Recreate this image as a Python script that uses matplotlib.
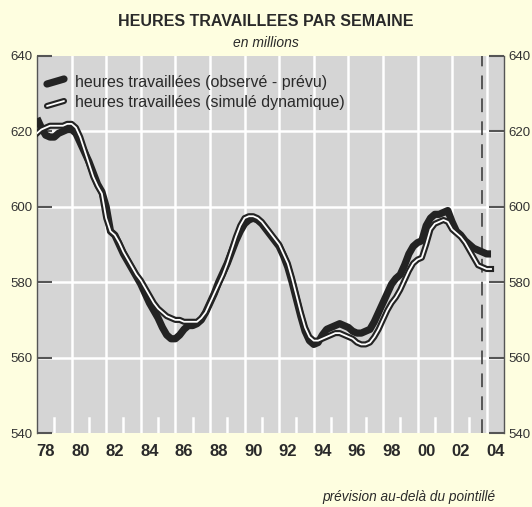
import numpy as np
import matplotlib
matplotlib.use("Agg")
import matplotlib.pyplot as plt

# ---------------- data (quarterly, 1978Q1 .. 2004Q2) ----------------
start_year = 1978.0
observed = [
    623.5, 621, 619, 618.5,
    618.5, 619.5, 620, 620.5,
    620.5, 619.5, 617, 614.5,
    612, 609, 606, 604,
    600, 593.5, 592.5, 590,
    587.5, 585.5, 583.5, 581.5,
    579.5, 577, 574.5, 572.5,
    570.5, 568, 566, 565,
    565, 566, 567.5, 568.5,
    568.5, 569, 570, 572,
    574.5, 577, 580, 582.5,
    585, 588, 591, 593.5,
    595.5, 596.5, 597, 596.5,
    595.5, 594, 592.5, 591,
    589.5, 587, 584, 580,
    575.5, 571, 567, 564.5,
    563.5, 564, 566, 567.5,
    568, 568.5, 569, 568.5,
    568, 567, 566.5, 566.5,
    567, 567.5, 569.5, 572,
    574.5, 577, 579.5, 581,
    582, 584.5, 587.5, 589.5,
    590.5, 591, 595, 597,
    598, 598, 598.5, 599,
    596, 593.5, 592.5, 591,
    590, 589, 588.5, 588,
    587.5, 587.5,
]
simulated = [
    619.5, 620.5, 621, 621.5,
    621.5, 621.5, 621.5, 622,
    622, 621, 618.5, 615,
    611.5, 608, 605.5, 603.5,
    597, 593.5, 592.5, 590.5,
    588, 586, 584, 582,
    580.5, 578.5, 576.5, 574.5,
    573, 572, 571, 570.5,
    570, 570, 569.5, 569.5,
    569.5, 569.5, 570.5, 572,
    574.5, 577, 579.5, 582,
    585, 588.5, 592, 595,
    597, 597.5, 597.5, 597,
    596, 594.5, 593, 591.5,
    590, 587.5, 585, 581,
    576.5, 572, 568, 565.5,
    564.5, 564.5, 565, 565.5,
    566, 566.5, 566.5, 566,
    565.5, 565, 564, 563.5,
    563.5, 564, 565.5, 567.5,
    570, 572.5, 574.5, 576,
    578, 580.5, 583, 585,
    586, 586.5, 590, 594,
    595.5, 596, 596.5, 596,
    594, 593, 592, 590.5,
    588.5, 586.5, 584.5, 584,
    583.5, 583.5,
]
forecast_start = 2003.75
year_labels = ["78", "80", "82", "84", "86", "88", "90", "92", "94", "96",
               "98", "00", "02", "04"]
label_years = list(range(1978, 2005, 2))
y_ticks = [540, 560, 580, 600, 620, 640]

title = "HEURES TRAVAILLEES PAR SEMAINE"
subtitle = "en millions"
legend_labels = ["heures travaillées (observé - prévu)",
                 "heures travaillées (simulé dynamique)"]
footnote = "prévision au-delà du pointillé"

# ---------------- style ----------------
BG = "#FEFEE0"
PLOT_BG = "#D5D5D5"
INK = "#232323"
AX_GREY = "#555555"

plt.rcParams["font.family"] = ["Liberation Sans", "DejaVu Sans"]

fig = plt.figure(figsize=(5.32, 5.07), dpi=100, facecolor=BG)
ax = fig.add_axes([37 / 532, 1 - 433 / 507, (504 - 37) / 532, (433 - 56) / 507])
ax.set_facecolor(PLOT_BG)

t = start_year + np.arange(len(observed)) * 0.25

ax.set_xlim(1978, 2005)
ax.set_ylim(540, 640)

# grid
for yv in y_ticks[1:-1]:
    ax.axhline(yv, color="white", lw=1.8, zorder=1)
for yr in range(1980, 2005, 2):
    ax.axvline(yr, color="white", lw=1.8, zorder=1)
for yr in range(1979, 2005, 2):
    ax.axvline(yr, ymin=0, ymax=0.04, color="white", lw=1.8, zorder=1)

# forecast marker
ax.axvline(forecast_start, color="#333333", lw=1.1, dashes=(9, 6), zorder=2)

# series
ax.plot(t, observed, color=INK, lw=5.2, solid_capstyle="butt",
        solid_joinstyle="round", zorder=3)
ax.plot(t, simulated, color=INK, lw=4.4, solid_joinstyle="round", zorder=4)
ax.plot(t, simulated, color="white", lw=1.3, solid_joinstyle="round", zorder=5)

# spines
for s in ["top", "bottom"]:
    ax.spines[s].set_visible(False)
for s in ["left", "right"]:
    ax.spines[s].set_color(AX_GREY)
    ax.spines[s].set_linewidth(1.0)

# y ticks both sides
ax.set_yticks(y_ticks)
ax.tick_params(axis="y", which="major", direction="in", length=11, width=1.5,
               color=AX_GREY, left=True, right=True, labelleft=True,
               labelright=True, labelsize=9.5, labelcolor="#333333", pad=3)

# x labels at mid-year
ax.set_xticks([y + 0.5 for y in label_years])
ax.set_xticklabels(year_labels, fontsize=12, fontweight="bold",
                   color="#2a2a2a")
ax.tick_params(axis="x", which="major", length=0, pad=8)

# titles
fig.text(0.5, 1 - 22 / 507, title, ha="center", va="center",
         fontsize=11.5, fontweight="bold", color="#2a2a2a")
fig.text(0.5, 1 - 43 / 507, subtitle, ha="center", va="center",
         fontsize=10, style="italic", color="#2a2a2a")

# legend (manual)
trans = ax.transAxes
def ax_xy(px, py):
    return ((px - 37) / (504 - 37), (433 - py) / (433 - 56))

x0, y0 = ax_xy(47, 84)
x1, y1 = ax_xy(64, 79)
ax.plot([x0, x1], [y0, y1], transform=trans, color=INK, lw=5.2,
        solid_capstyle="round", zorder=6, clip_on=False)
x0, y0 = ax_xy(47, 106)
x1, y1 = ax_xy(64, 101)
ax.plot([x0, x1], [y0, y1], transform=trans, color=INK, lw=4.4,
        solid_capstyle="round", zorder=6, clip_on=False)
ax.plot([x0, x1], [y0, y1], transform=trans, color="white", lw=1.3,
        solid_capstyle="round", zorder=7, clip_on=False)
tx, ty = ax_xy(75, 82)
ax.text(tx, ty, legend_labels[0], transform=trans, ha="left", va="center",
        fontsize=11.5, color="#2a2a2a", zorder=8)
tx, ty = ax_xy(75, 103)
ax.text(tx, ty, legend_labels[1], transform=trans, ha="left", va="center",
        fontsize=11.5, color="#2a2a2a", zorder=8)

fig.text(495 / 532, 1 - 497 / 507, footnote, ha="right", va="center",
         fontsize=9.8, style="italic", color="#2a2a2a")

fig.savefig("out.png", dpi=100, facecolor=BG)
